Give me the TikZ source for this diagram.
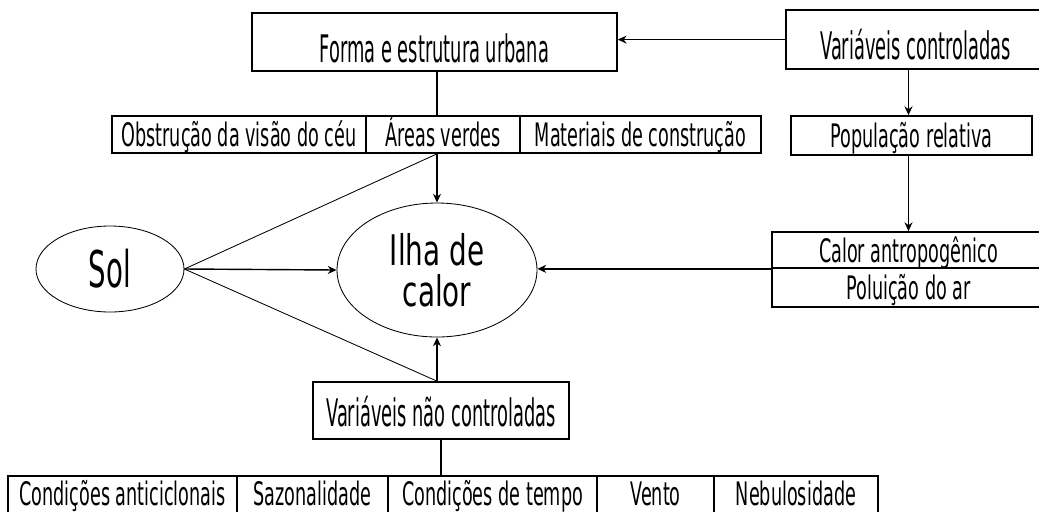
\documentclass[tikz,border=0pt]{standalone}
\usepackage{fontspec}
\setmainfont{DejaVu Sans}[FakeStretch=0.545]
\newfontfamily\grandefont{DejaVu Sans}[FakeStretch=0.47]
\newfontfamily\ilhafont{DejaVu Sans}[FakeStretch=0.66]
\usetikzlibrary{arrows.meta}
\usetikzlibrary{shapes.geometric}

\begin{document}
\begin{tikzpicture}[
    caixa/.style={rectangle, draw, line width=1.2pt, inner sep=0pt, text height=0.7cm, text depth=0.1cm, font=\fontsize{23}{26}\selectfont},
    grande/.style={caixa, text height=1.05cm, text depth=0.05cm, font=\grandefont\fontsize{27}{30}\selectfont},
    oval/.style={ellipse, draw, line width=0.6pt, inner sep=0pt},
    seta/.style={-{Stealth[length=2.2mm,width=2mm]}, line width=1pt},
    linha/.style={line width=1pt}
  ]
    \clip (0,0) rectangle (25.975,-12.775);

    % variaveis controladas
    \node[grande, minimum width=9.125cm, minimum height=1.45cm] (forma) at (10.86, -1.05) {Forma e estrutura urbana};
    \node[grande, minimum width=6.475cm, minimum height=1.475cm] (varc) at (22.89, -0.99) {Variáveis controladas};

    \node[caixa, minimum width=6.35cm, minimum height=0.925cm] (obst) at (5.975, -3.3625) {Obstrução da visão do céu};
    \node[caixa, minimum width=3.85cm, minimum height=0.925cm] (areas) at (11.075, -3.3625) {Áreas verdes};
    \node[caixa, minimum width=6.025cm, minimum height=0.925cm] (mat) at (16.0125, -3.3625) {Materiais de construção};
    \node[caixa, minimum width=6.025cm, minimum height=0.975cm] (pop) at (22.7875, -3.3875) {População relativa};

    \node[caixa, minimum width=6.825cm, minimum height=0.9cm] (calor1) at (22.7125, -6.25) {Calor antropogênico};
    \node[caixa, minimum width=6.825cm, minimum height=0.975cm] (calor2) at (22.7125, -7.1875) {Poluição do ar};

    % centro
    \node[oval, minimum width=3.7cm, minimum height=2.15cm, font=\fontsize{36}{36}\selectfont] (sol) at (2.75, -6.725) {Sol};
    \node[oval, minimum width=5cm, minimum height=3.35cm, align=center, font=\ilhafont\fontsize{30}{29}\selectfont] (ilha) at (10.925, -6.75) {Ilha de\\calor};

    % variaveis nao controladas
    \node[grande, text height=0.85cm, minimum width=6.4cm, minimum height=1.425cm] (nc) at (11.025, -10.2625) {Variáveis não controladas};

    \node[caixa, text height=0.5cm, minimum width=5.725cm, minimum height=1.05cm] (cond) at (3.0625, -12.425) {Condições anticiclonais};
    \node[caixa, text height=0.5cm, minimum width=3.775cm, minimum height=1.05cm] (saz) at (7.8125, -12.425) {Sazonalidade};
    \node[caixa, text height=0.5cm, minimum width=5.225cm, minimum height=1.05cm] (tempo) at (12.3125, -12.425) {Condições de tempo};
    \node[caixa, text height=0.5cm, minimum width=2.925cm, minimum height=1.05cm] (vento) at (16.3875, -12.425) {Vento};
    \node[caixa, text height=0.5cm, minimum width=4.1cm, minimum height=1.05cm] (nebu) at (19.9, -12.425) {Nebulosidade};

    % ligacoes
    \draw[seta] (varc.west) -- (varc.west -| forma.east);
    \draw[linha] (ilha |- forma.south) -- (ilha |- areas.north);
    \draw[seta] (ilha |- areas.south) -- (ilha.north);
    \draw[seta] (calor1 |- varc.south) -- (calor1 |- pop.north);
    \draw[seta] (calor1 |- pop.south) -- (calor1.north);
    \draw[seta] (calor1.south west) -- (calor1.south west -| ilha.east);

    \draw[seta] (sol.east) -- (ilha.west);
    \draw[line width=0.6pt] (sol.east) -- (ilha |- areas.south);
    \draw[line width=0.6pt] (sol.east) -- (ilha |- nc.north);
    \draw[seta] (ilha |- nc.north) -- (ilha.south);
    \draw[linha] (nc.south) -- (nc.south |- cond.north);
\end{tikzpicture}
\end{document}
